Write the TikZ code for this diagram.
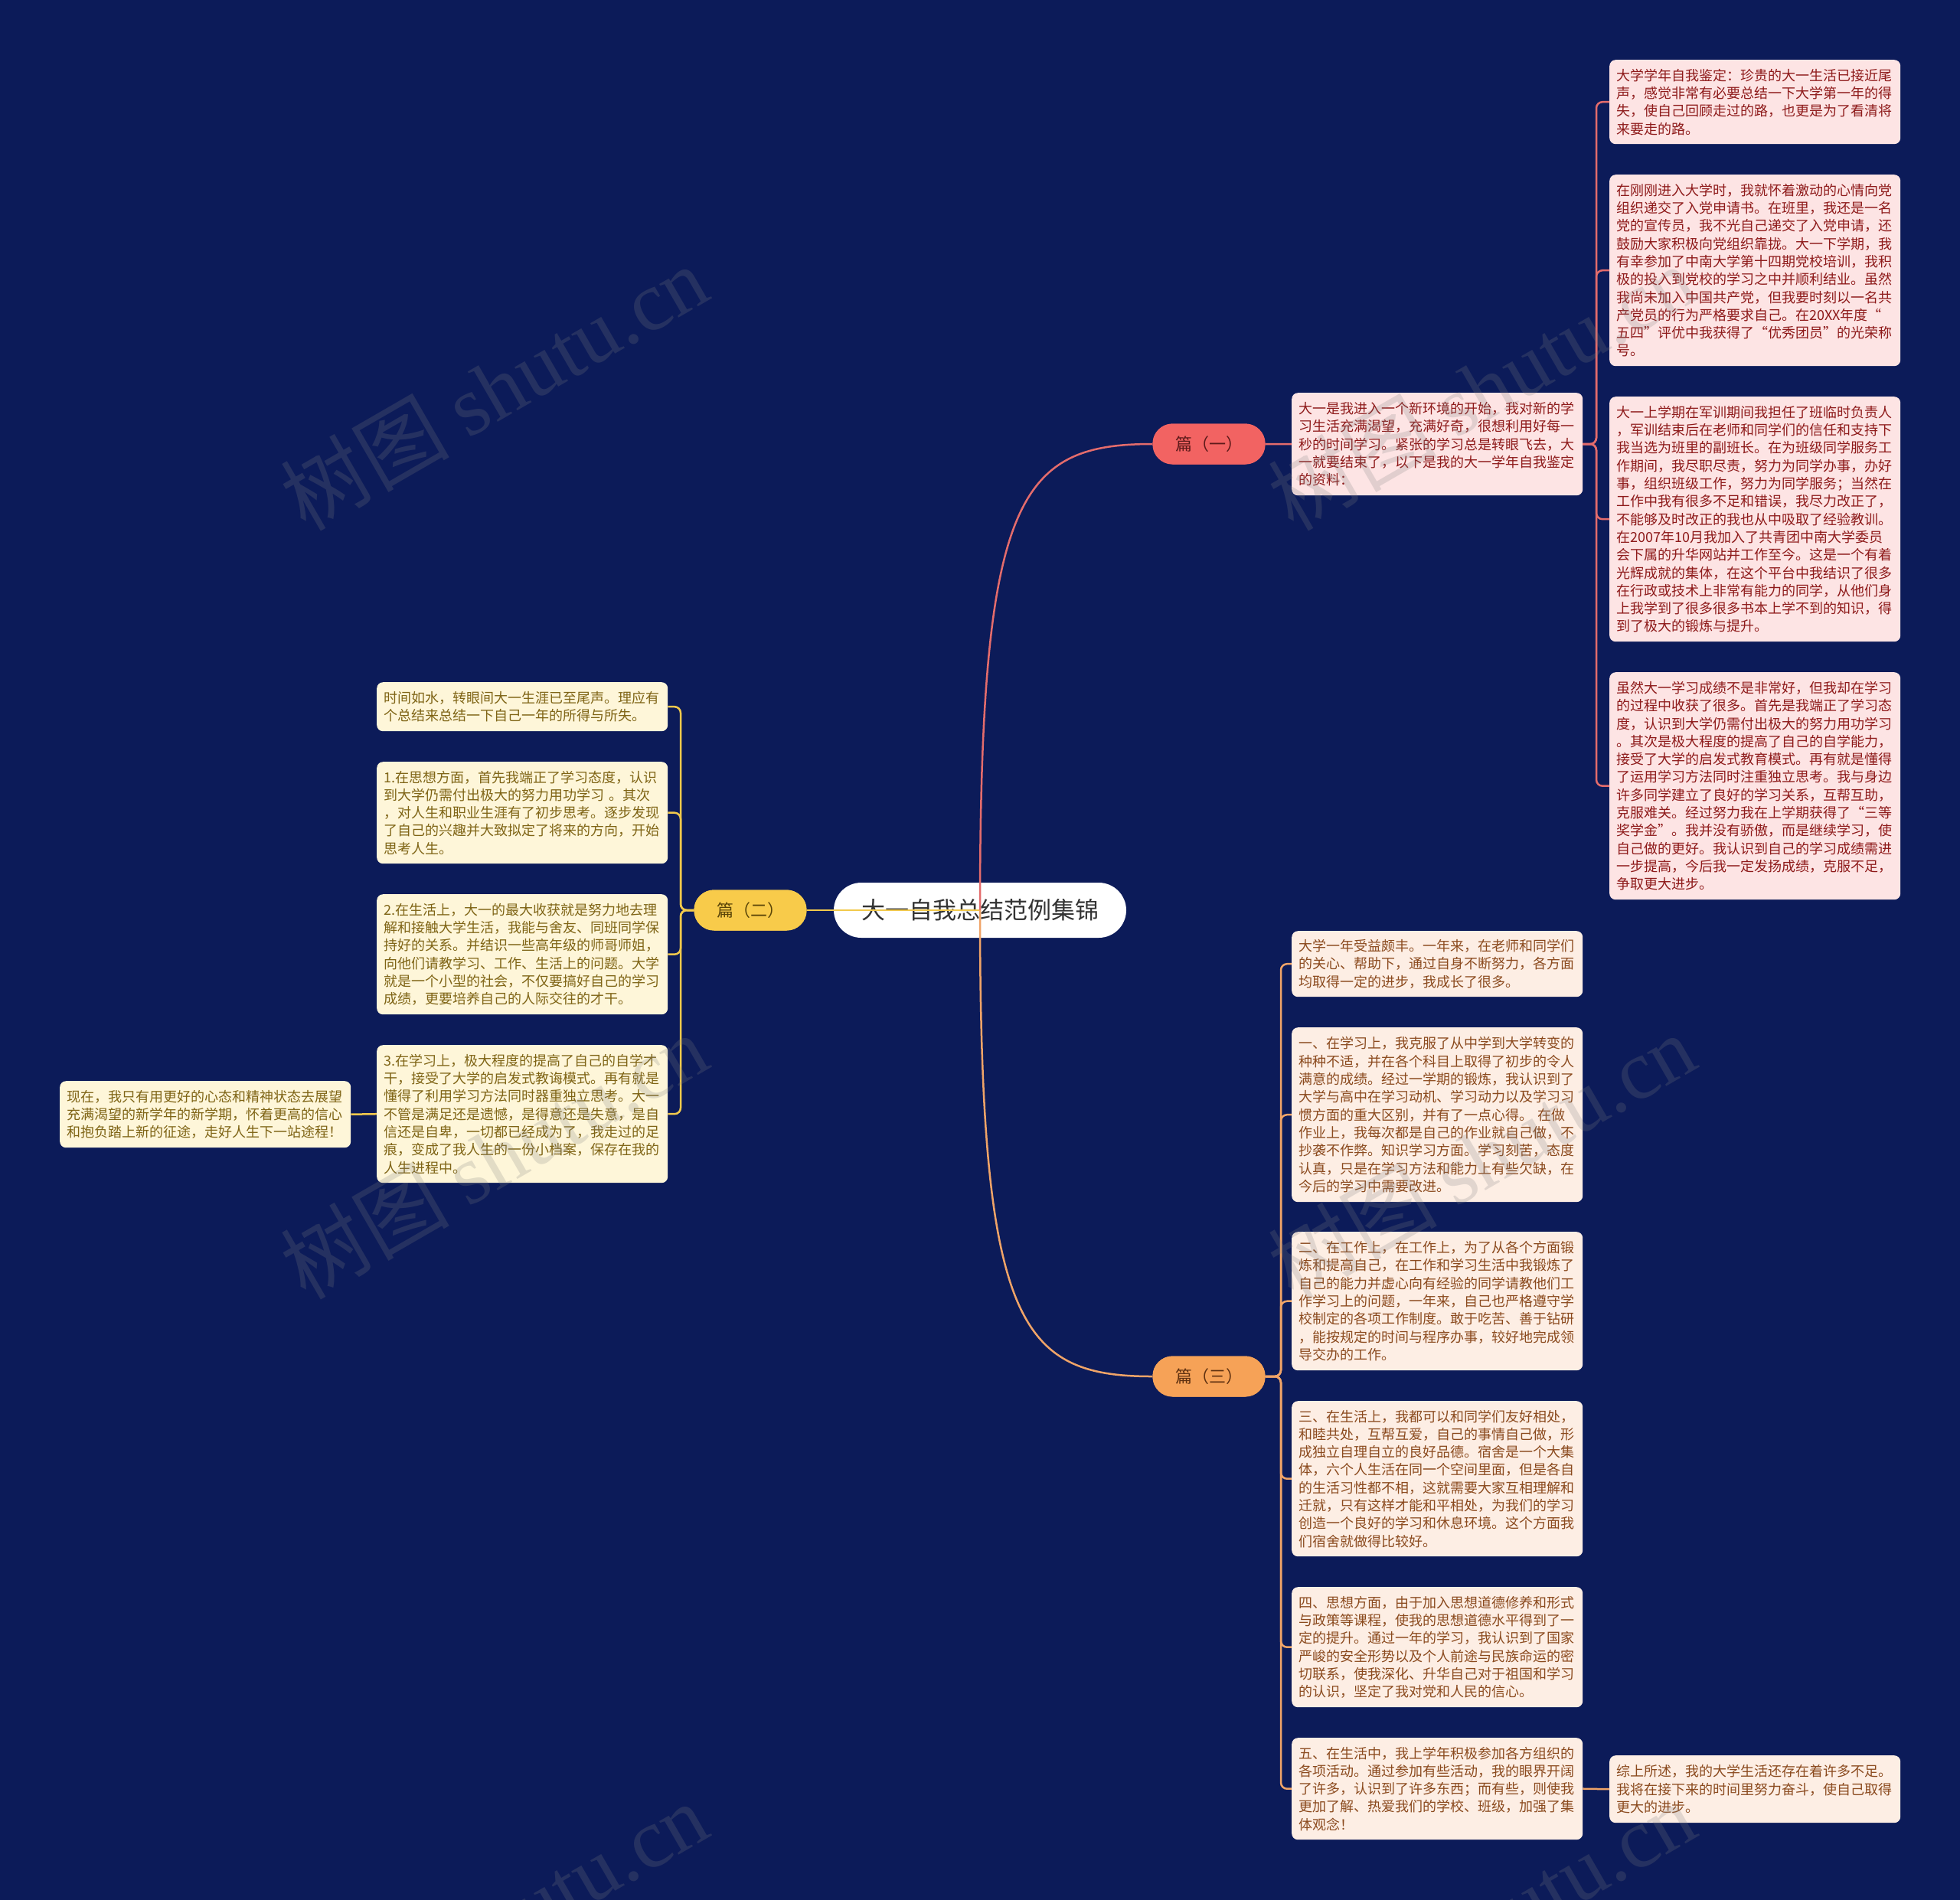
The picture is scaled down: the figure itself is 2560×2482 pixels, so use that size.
\documentclass[tikz,border=0pt]{standalone}
\usepackage{fontspec}
\setmainfont{Noto Sans CJK SC}
\newfontfamily\wmlatin{Liberation Serif}
\definecolor{bgc}{HTML}{0C1B59}
\definecolor{pinkbg}{HTML}{FDE4E4}
\definecolor{redtxt}{HTML}{8E1A1A}
\definecolor{creambg}{HTML}{FEF6D9}
\definecolor{olivetxt}{HTML}{7F6415}
\definecolor{peachbg}{HTML}{FDEEE4}
\definecolor{browntxt}{HTML}{8B4A1E}
\definecolor{redpill}{HTML}{F26362}
\definecolor{redline}{HTML}{E46C6C}
\definecolor{yelpill}{HTML}{F8CB4A}
\definecolor{yelline}{HTML}{F2C94C}
\definecolor{orapill}{HTML}{F6A257}
\definecolor{oraline}{HTML}{F0A468}
\definecolor{pilltxt1}{HTML}{5C1A1A}
\definecolor{pilltxt2}{HTML}{5A4508}
\definecolor{pilltxt3}{HTML}{5E3010}
\tikzset{
  card/.style={anchor=north west, rounded corners=8pt, inner xsep=9pt, inner ysep=0pt,
    text width=362pt, align=left, font=\fontsize{18}{23.3}\selectfont},
  redcard/.style={card, fill=pinkbg, text=redtxt},
  yelcard/.style={card, fill=creambg, text=olivetxt},
  oracard/.style={card, fill=peachbg, text=browntxt},
  pill/.style={rounded corners=26pt, minimum width=147pt, minimum height=53pt, inner sep=0pt,
    font=\fontsize{22}{26}\selectfont},
  link/.style={line width=2.5pt, rounded corners=8pt},
  wm/.style={rotate=30, text=gray, opacity=0.22, font=\fontsize{110}{110}\selectfont, inner sep=0pt}
}
\begin{document}
\begin{tikzpicture}[x=1pt,y=-1pt]
\useasboundingbox (0,0) rectangle (2560,2482);
\fill[bgc] (0,0) rectangle (2560,2482);

% root
\node[fill=white, rounded corners=36pt, minimum width=382pt, minimum height=72pt, inner sep=0pt,
  text=black!80, font=\fontsize{31}{36}\selectfont] (root) at (1280,1189) {大一自我总结范例集锦};

% branch pills (named, used as connector ends)
\node[pill, fill=redpill, text=pilltxt1] (p1) at (1579,580) {篇（一）};
\node[pill, fill=yelpill, text=pilltxt2] (p2) at (980,1189) {篇（二）};
\node[pill, fill=orapill, text=pilltxt3] (p3) at (1579,1798) {篇（三）};

% root connectors (drawn over the root)
\draw[line width=2.5pt, yelline] (root.center) -- (p2.east);
\draw[line width=2.5pt, redline] (root.center) .. controls (1280,650) and (1330,580) .. (p1.west);
\draw[line width=2.5pt, oraline] (root.center) .. controls (1280,1728) and (1330,1798) .. (p3.west);

% ---------- branch 1 ----------
\node[redcard, minimum height=134pt] (b) at (1687,513) {大一是我进入一个新环境的开始，我对新的学\\习生活充满渴望，充满好奇，很想利用好每一\\秒的时间学习。紧张的学习总是转眼飞去，大\\一就要结束了，以下是我的大一学年自我鉴定\\的资料：};
\node[redcard, minimum height=110pt] (a1) at (2102,78) {大学学年自我鉴定：珍贵的大一生活已接近尾\\声，感觉非常有必要总结一下大学第一年的得\\失，使自己回顾走过的路，也更是为了看清将\\来要走的路。};
\node[redcard, minimum height=250pt] (a2) at (2102,228) {在刚刚进入大学时，我就怀着激动的心情向党\\组织递交了入党申请书。在班里，我还是一名\\党的宣传员，我不光自己递交了入党申请，还\\鼓励大家积极向党组织靠拢。大一下学期，我\\有幸参加了中南大学第十四期党校培训，我积\\极的投入到党校的学习之中并顺利结业。虽然\\我尚未加入中国共产党，但我要时刻以一名共\\产党员的行为严格要求自己。在20XX年度“\\五四”评优中我获得了“优秀团员”的光荣称\\号。};
\node[redcard, minimum height=320pt] (a3) at (2102,518) {大一上学期在军训期间我担任了班临时负责人\\，军训结束后在老师和同学们的信任和支持下\\我当选为班里的副班长。在为班级同学服务工\\作期间，我尽职尽责，努力为同学办事，办好\\事，组织班级工作，努力为同学服务；当然在\\工作中我有很多不足和错误，我尽力改正了，\\不能够及时改正的我也从中吸取了经验教训。\\在2007年10月我加入了共青团中南大学委员\\会下属的升华网站并工作至今。这是一个有着\\光辉成就的集体，在这个平台中我结识了很多\\在行政或技术上非常有能力的同学，从他们身\\上我学到了很多很多书本上学不到的知识，得\\到了极大的锻炼与提升。};
\node[redcard, minimum height=297pt] (a4) at (2102,878) {虽然大一学习成绩不是非常好，但我却在学习\\的过程中收获了很多。首先是我端正了学习态\\度，认识到大学仍需付出极大的努力用功学习\\。其次是极大程度的提高了自己的自学能力，\\接受了大学的启发式教育模式。再有就是懂得\\了运用学习方法同时注重独立思考。我与身边\\许多同学建立了良好的学习关系，互帮互助，\\克服难关。经过努力我在上学期获得了“三等\\奖学金”。我并没有骄傲，而是继续学习，使\\自己做的更好。我认识到自己的学习成绩需进\\一步提高，今后我一定发扬成绩，克服不足，\\争取更大进步。};
\draw[line width=2.5pt, redline] (p1.east) -- (b.west);
\foreach \n in {a1,a2,a3,a4}{
  \draw[link, redline] (b.east) -- (2085,580) -- (2085,0 |- \n.west) -- (\n.west);
}

% ---------- branch 2 ----------
\node[yelcard, minimum height=64pt] (l1) at (492,891) {时间如水，转眼间大一生涯已至尾声。理应有\\个总结来总结一下自己一年的所得与所失。};
\node[yelcard, minimum height=133pt] (l2) at (492,995) {1.在思想方面，首先我端正了学习态度，认识\\到大学仍需付出极大的努力用功学习 。其次\\，对人生和职业生涯有了初步思考。逐步发现\\了自己的兴趣并大致拟定了将来的方向，开始\\思考人生。};
\node[yelcard, minimum height=157pt] (l3) at (492,1168) {2.在生活上，大一的最大收获就是努力地去理\\解和接触大学生活，我能与舍友、同班同学保\\持好的关系。并结识一些高年级的师哥师姐，\\向他们请教学习、工作、生活上的问题。大学\\就是一个小型的社会，不仅要搞好自己的学习\\成绩，更要培养自己的人际交往的才干。};
\node[yelcard, minimum height=180pt] (l4) at (492,1365) {3.在学习上，极大程度的提高了自己的自学才\\干，接受了大学的启发式教诲模式。再有就是\\懂得了利用学习方法同时器重独立思考。大一\\不管是满足还是遗憾，是得意还是失意，是自\\信还是自卑，一切都已经成为了，我走过的足\\痕，变成了我人生的一份小档案，保存在我的\\人生进程中。};
\node[yelcard, minimum height=87pt] (l5) at (78,1412) {现在，我只有用更好的心态和精神状态去展望\\充满渴望的新学年的新学期，怀着更高的信心\\和抱负踏上新的征途，走好人生下一站途程！};
\foreach \n in {l1,l2,l3,l4}{
  \draw[link, yelline] (p2.west) -- (889,1189) -- (889,0 |- \n.east) -- (\n.east);
}
\draw[line width=2.5pt, yelline] (l4.west) -- (l5.east);

% ---------- branch 3 ----------
\node[oracard, minimum height=86pt] (c1) at (1687,1216) {大学一年受益颇丰。一年来，在老师和同学们\\的关心、帮助下，通过自身不断努力，各方面\\均取得一定的进步，我成长了很多。};
\node[oracard, minimum height=228pt] (c2) at (1687,1342) {一、在学习上，我克服了从中学到大学转变的\\种种不适，并在各个科目上取得了初步的令人\\满意的成绩。经过一学期的锻炼，我认识到了\\大学与高中在学习动机、学习动力以及学习习\\惯方面的重大区别，并有了一点心得。 在做\\作业上，我每次都是自己的作业就自己做，不\\抄袭不作弊。知识学习方面。学习刻苦，态度\\认真，只是在学习方法和能力上有些欠缺，在\\今后的学习中需要改进。};
\node[oracard, minimum height=181pt] (c3) at (1687,1609) {二、在工作上，在工作上，为了从各个方面锻\\炼和提高自己，在工作和学习生活中我锻炼了\\自己的能力并虚心向有经验的同学请教他们工\\作学习上的问题，一年来，自己也严格遵守学\\校制定的各项工作制度。敢于吃苦、善于钻研\\，能按规定的时间与程序办事，较好地完成领\\导交办的工作。};
\node[oracard, minimum height=203pt] (c4) at (1687,1830) {三、在生活上，我都可以和同学们友好相处，\\和睦共处，互帮互爱，自己的事情自己做，形\\成独立自理自立的良好品德。宿舍是一个大集\\体，六个人生活在同一个空间里面，但是各自\\的生活习性都不相，这就需要大家互相理解和\\迁就，只有这样才能和平相处，为我们的学习\\创造一个良好的学习和休息环境。这个方面我\\们宿舍就做得比较好。};
\node[oracard, minimum height=157pt] (c5) at (1687,2073) {四、思想方面，由于加入思想道德修养和形式\\与政策等课程，使我的思想道德水平得到了一\\定的提升。通过一年的学习，我认识到了国家\\严峻的安全形势以及个人前途与民族命运的密\\切联系，使我深化、升华自己对于祖国和学习\\的认识，坚定了我对党和人民的信心。};
\node[oracard, minimum height=133pt] (c6) at (1687,2270) {五、在生活中，我上学年积极参加各方组织的\\各项活动。通过参加有些活动，我的眼界开阔\\了许多，认识到了许多东西；而有些，则使我\\更加了解、热爱我们的学校、班级，加强了集\\体观念！};
\node[oracard, minimum height=88pt] (d) at (2102,2293) {综上所述，我的大学生活还存在着许多不足。\\我将在接下来的时间里努力奋斗，使自己取得\\更大的进步。};
\foreach \n in {c1,c2,c3,c4,c5,c6}{
  \draw[link, oraline] (p3.east) -- (1673,1798) -- (1673,0 |- \n.west) -- (\n.west);
}
\draw[line width=2.5pt, oraline] (c6.east) -- (d.west);

% pills redrawn on top of the connectors
\node[pill, fill=redpill, text=pilltxt1] at (p1.center) {篇（一）};
\node[pill, fill=yelpill, text=pilltxt2] at (p2.center) {篇（二）};
\node[pill, fill=orapill, text=pilltxt3] at (p3.center) {篇（三）};

% watermarks
\foreach \x/\y in {645/506,1935/506,645/1510,1935/1510,645/2514,1935/2514}{
  \node[wm] at (\x,\y) {树图 {\wmlatin shutu.cn}};
}
\end{tikzpicture}
\end{document}
